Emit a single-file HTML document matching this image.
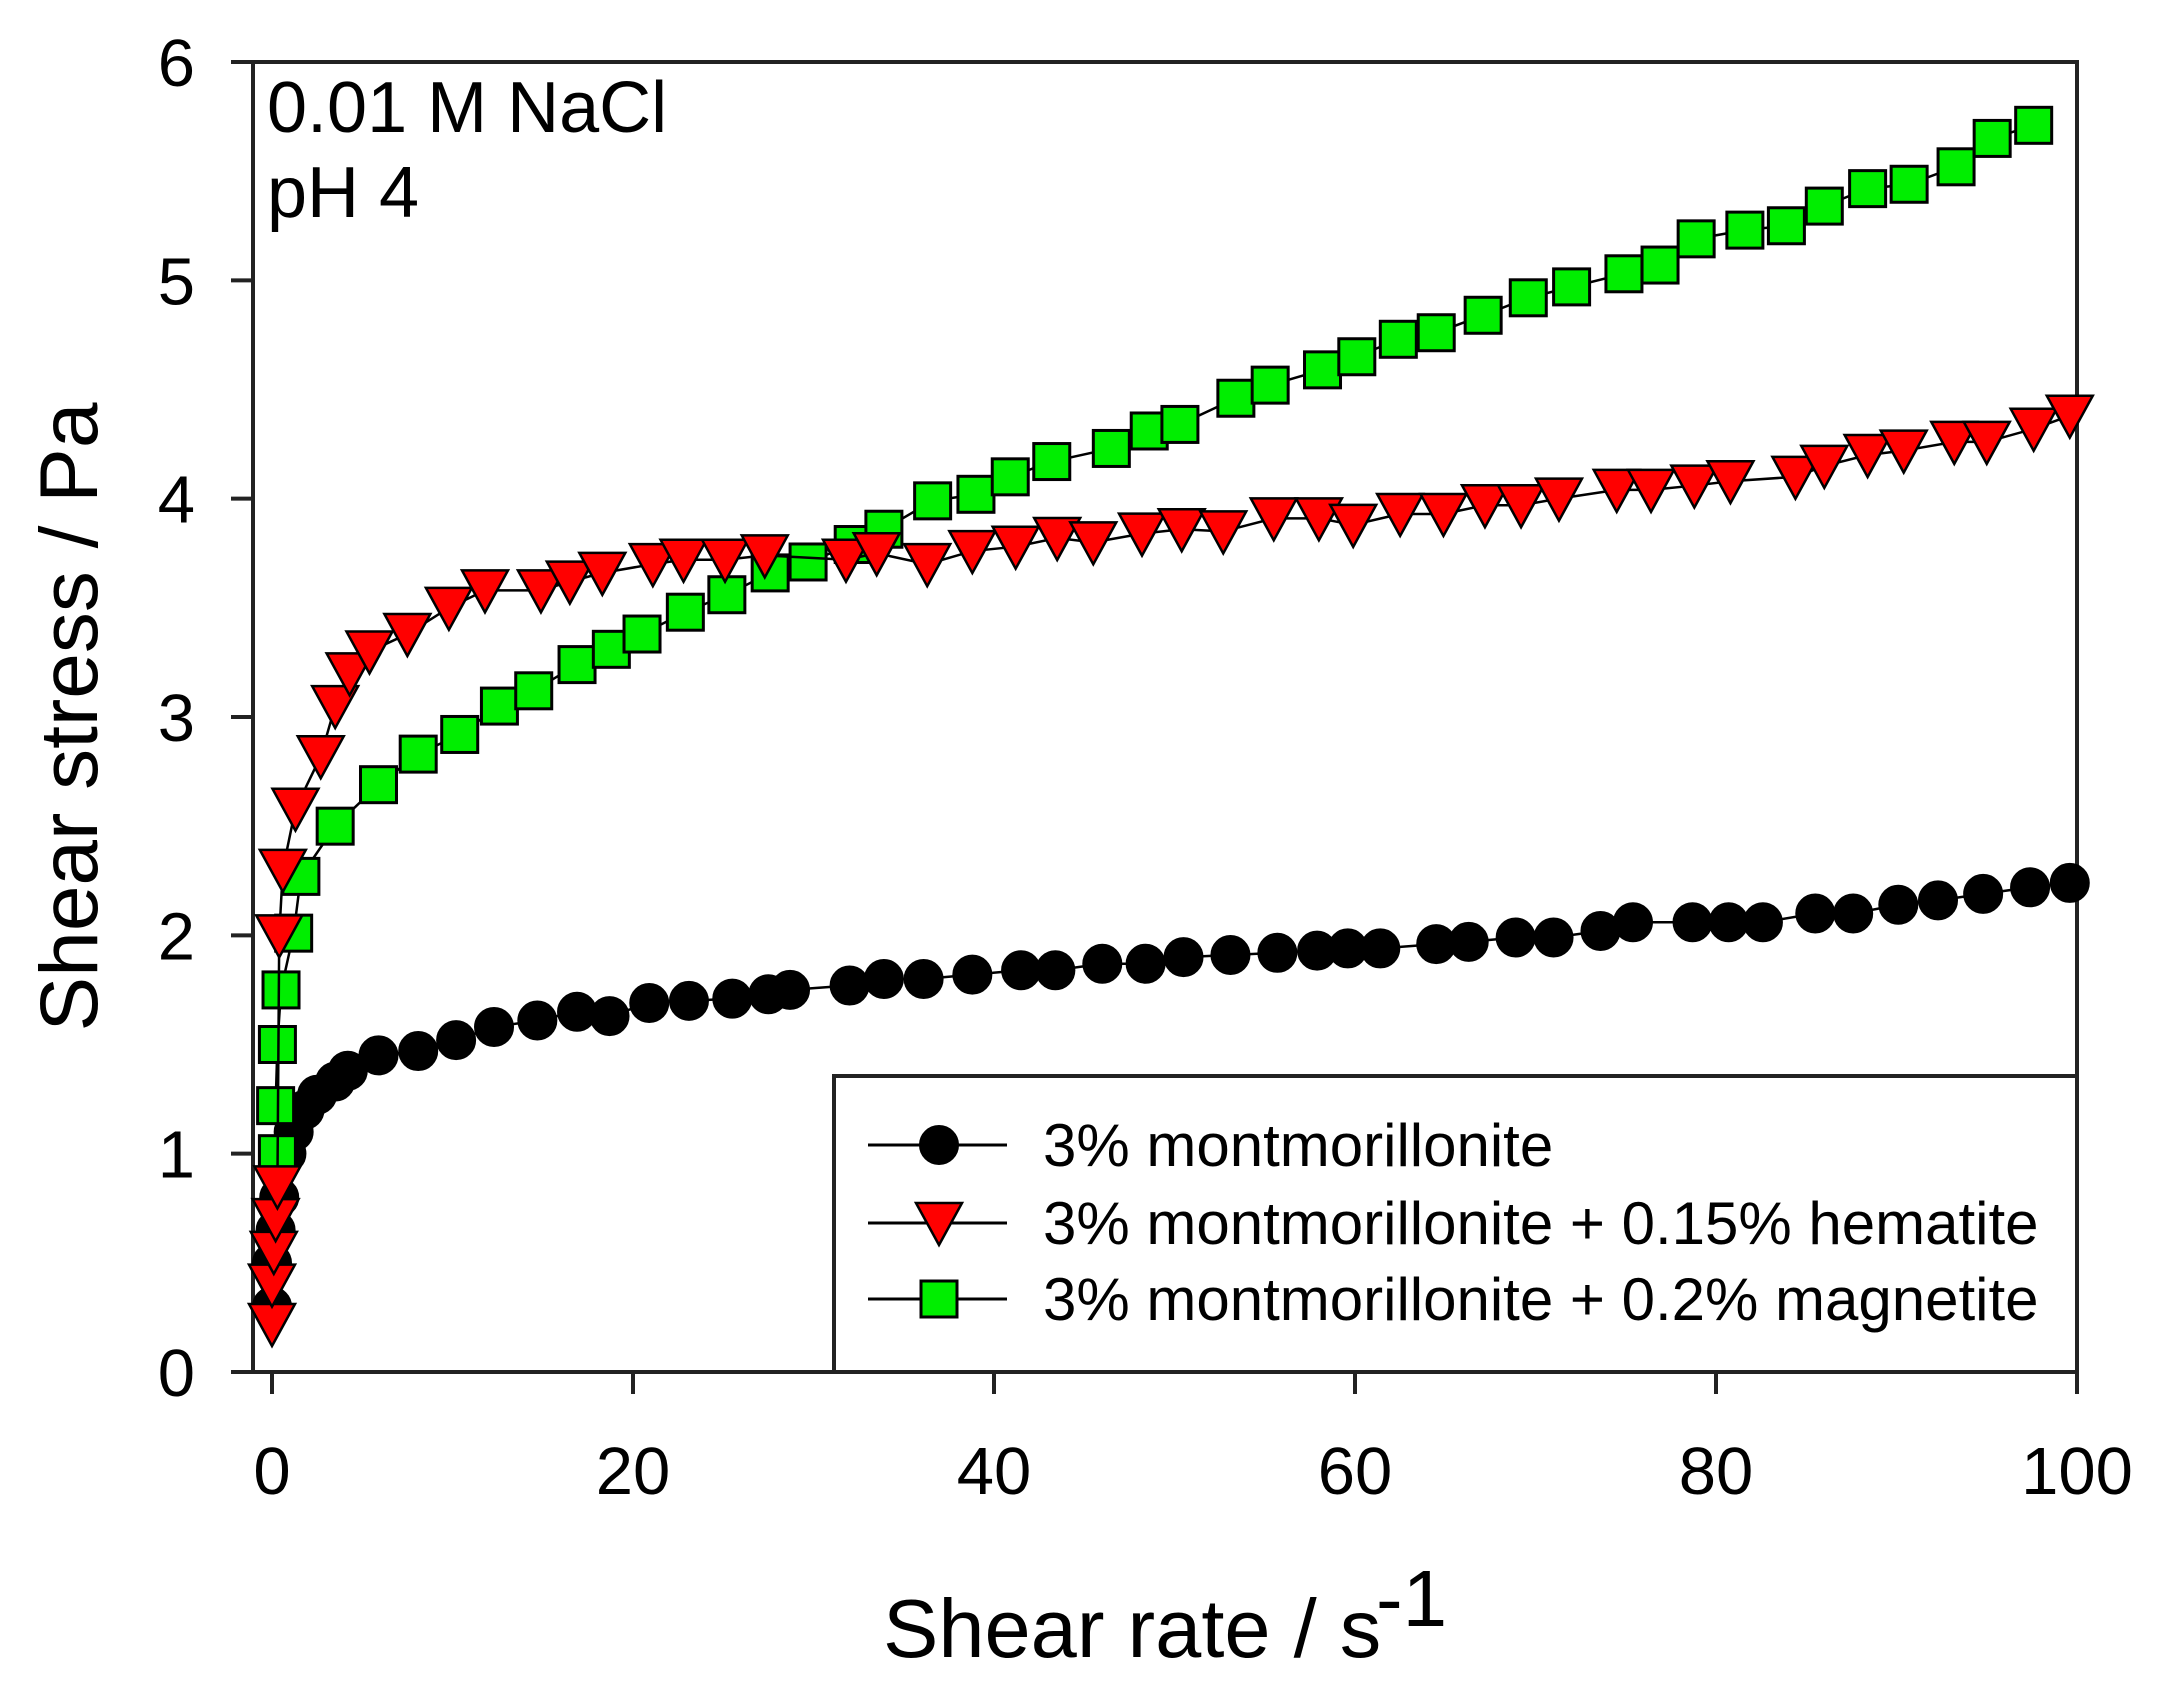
<!DOCTYPE html>
<html><head><meta charset="utf-8"><style>
html,body{margin:0;padding:0;background:#fff;}
svg{display:block;font-family:"Liberation Sans",Arial,sans-serif;}
</style></head><body>
<svg id="chart" width="2163" height="1697" viewBox="0 0 2163 1697" xmlns="http://www.w3.org/2000/svg">
<g id="plot"></g>
</svg>
<script>
const xTicks=[0,20,40,60,80,100];
const yTicks=[0,1,2,3,4,5,6];
const seriesNames=["3% montmorillonite","3% montmorillonite + 0.15% hematite","3% montmorillonite + 0.2% magnetite"];
const montX=[0,0,0.2,0.4,0.8,1.2,1.8,2.5,3.5,4.2,5.9,8.1,10.2,12.3,14.7,16.9,18.7,20.9,23.1,25.5,27.5,28.7,32.0,33.9,36.1,38.8,41.5,43.4,46.0,48.4,50.5,53.1,55.7,57.9,59.6,61.4,64.5,66.3,68.9,71.0,73.6,75.4,78.7,80.7,82.6,85.5,87.6,90.1,92.3,94.8,97.4,99.6];
const montY=[0.3,0.5,0.65,0.8,1.0,1.1,1.2,1.27,1.33,1.38,1.45,1.47,1.52,1.58,1.61,1.65,1.63,1.69,1.70,1.71,1.73,1.75,1.77,1.80,1.80,1.82,1.84,1.84,1.87,1.87,1.90,1.91,1.92,1.93,1.94,1.94,1.96,1.97,1.99,1.99,2.02,2.06,2.06,2.06,2.06,2.10,2.10,2.14,2.16,2.19,2.22,2.24];
const hemX=[0,0,0.1,0.2,0.3,0.4,0.6,1.3,2.7,3.5,4.3,5.4,7.5,9.8,11.8,14.9,16.5,18.3,21.1,22.8,25.1,27.3,31.8,33.5,36.3,38.8,41.2,43.5,45.5,48.2,50.4,52.7,55.5,58.0,59.9,62.5,64.9,67.2,69.2,71.3,74.5,76.4,78.8,80.8,84.4,86.0,88.4,90.4,93.2,95.0,97.6,99.6];
const hemY=[0.22,0.4,0.55,0.7,0.85,2.0,2.3,2.58,2.82,3.05,3.2,3.3,3.38,3.5,3.58,3.58,3.62,3.66,3.70,3.72,3.72,3.74,3.72,3.75,3.70,3.76,3.78,3.82,3.80,3.84,3.86,3.85,3.91,3.91,3.88,3.93,3.93,3.97,3.97,4.00,4.04,4.04,4.06,4.08,4.10,4.15,4.20,4.22,4.26,4.26,4.32,4.38];
const magX=[0.3,0.2,0.3,0.5,1.2,1.6,3.5,5.9,8.1,10.4,12.6,14.5,16.9,18.8,20.5,22.9,25.2,27.6,29.7,32.2,33.9,36.6,39.0,40.9,43.2,46.5,48.6,50.3,53.4,55.3,58.2,60.1,62.4,64.5,67.1,69.6,72.0,74.9,76.9,78.9,81.6,83.9,86.0,88.4,90.7,93.3,95.3,97.6];
const magY=[1.0,1.22,1.5,1.75,2.01,2.27,2.5,2.69,2.83,2.92,3.05,3.12,3.24,3.31,3.38,3.48,3.56,3.66,3.71,3.79,3.86,3.99,4.02,4.10,4.17,4.23,4.31,4.34,4.46,4.52,4.59,4.65,4.73,4.76,4.84,4.92,4.97,5.03,5.07,5.19,5.23,5.25,5.34,5.42,5.44,5.52,5.65,5.71];

const NS="http://www.w3.org/2000/svg";
const g=document.getElementById('plot');
const X0=272,X1=2077,Y0=1372,Y1=62;
function sx(v){return X0+(v-0)/(100-0)*(X1-X0);}
function sy(v){return Y0-(v-0)/(6-0)*(Y0-Y1);}
function mk(tag,attrs,parent){const e=document.createElementNS(NS,tag);for(const k in attrs)e.setAttribute(k,attrs[k]);(parent||g).appendChild(e);return e;}

let fr=mk('rect',{x:253,y:62,width:2077-253,height:1372-62,fill:'none',stroke:'#222','stroke-width':4});


let xb=mk('line',{x1:231,y1:1372,x2:2077,y2:1372,stroke:'#222','stroke-width':4});



xTicks.forEach(t=>{
  const tk=mk('line',{x1:sx(t),y1:1372,x2:sx(t),y2:1394,stroke:'#222','stroke-width':4});
  
  
  const tl=mk('text',{x:sx(t),y:1494,'text-anchor':'middle','font-size':67,fill:'#000'});
  tl.textContent=t;
  
  
});
yTicks.forEach(t=>{
  const tk=mk('line',{x1:231,y1:sy(t),x2:253,y2:sy(t),stroke:'#222','stroke-width':4});
  
  
  const tl=mk('text',{x:195,y:sy(t)+24,'text-anchor':'end','font-size':67,fill:'#000'});
  tl.textContent=t;
  
  
});

function marker(type,cx,cy,parent){
  let e;
  if(type==='circle') e=mk('circle',{cx:cx,cy:cy,r:19,fill:'#000',stroke:'#000','stroke-width':2},parent);
  else if(type==='tri') e=mk('polygon',{points:`${cx-23},${cy-20} ${cx+23},${cy-20} ${cx},${cy+22}`,fill:'#ff0000',stroke:'#000','stroke-width':2.5},parent);
  else e=mk('rect',{x:cx-18,y:cy-18,width:36,height:36,fill:'#00ee00',stroke:'#000','stroke-width':3},parent);
  return e;
}
function series(xs,ys,type,name){
  const sg=mk('g',{});
  
  
  const pts=xs.map((x,i)=>sx(x)+','+sy(ys[i])).join(' ');
  const pl=mk('polyline',{points:pts,fill:'none',stroke:'#000','stroke-width':2.5},sg);
  
  
  xs.forEach((x,i)=>{
    const m=marker(type,sx(x),sy(ys[i]),sg);
    
    
  });
}
series(montX,montY,'circle','montmorillonite-series');
series(magX,magY,'square','magnetite-series');
series(hemX,hemY,'tri','hematite-series');

const lg=mk('g',{});


mk('rect',{x:834,y:1076,width:2077-834,height:1372-1076,fill:'#fff',stroke:'#222','stroke-width':4},lg);
const types=['circle','tri','square'];
const rowsY=[1145,1223,1299];
seriesNames.forEach((n,i)=>{
  const eg=mk('g',{},lg);
  
  
  mk('line',{x1:868,y1:rowsY[i],x2:1007,y2:rowsY[i],stroke:'#000','stroke-width':3},eg);
  marker(types[i],939,rowsY[i],eg);
  const t=mk('text',{x:1043,y:rowsY[i]+21,'font-size':60,fill:'#000'},eg);
  t.textContent=n;
});

let a1=mk('text',{x:267,y:132,'font-size':72,fill:'#000'});a1.textContent='0.01 M NaCl';


let a2=mk('text',{x:267,y:217,'font-size':72,fill:'#000'});a2.textContent='pH 4';



let yt=mk('text',{x:0,y:0,'font-size':82,fill:'#000','text-anchor':'middle',transform:'translate(97,717) rotate(-90)'});
yt.textContent='Shear stress / Pa';


let xt=mk('text',{x:883,y:1657,'font-size':83,fill:'#000'});
xt.textContent='Shear rate / s';


let xs1=mk('text',{x:1376,y:1626,'font-size':80,fill:'#000'});
xs1.textContent='-1';


</script>
</body></html>
